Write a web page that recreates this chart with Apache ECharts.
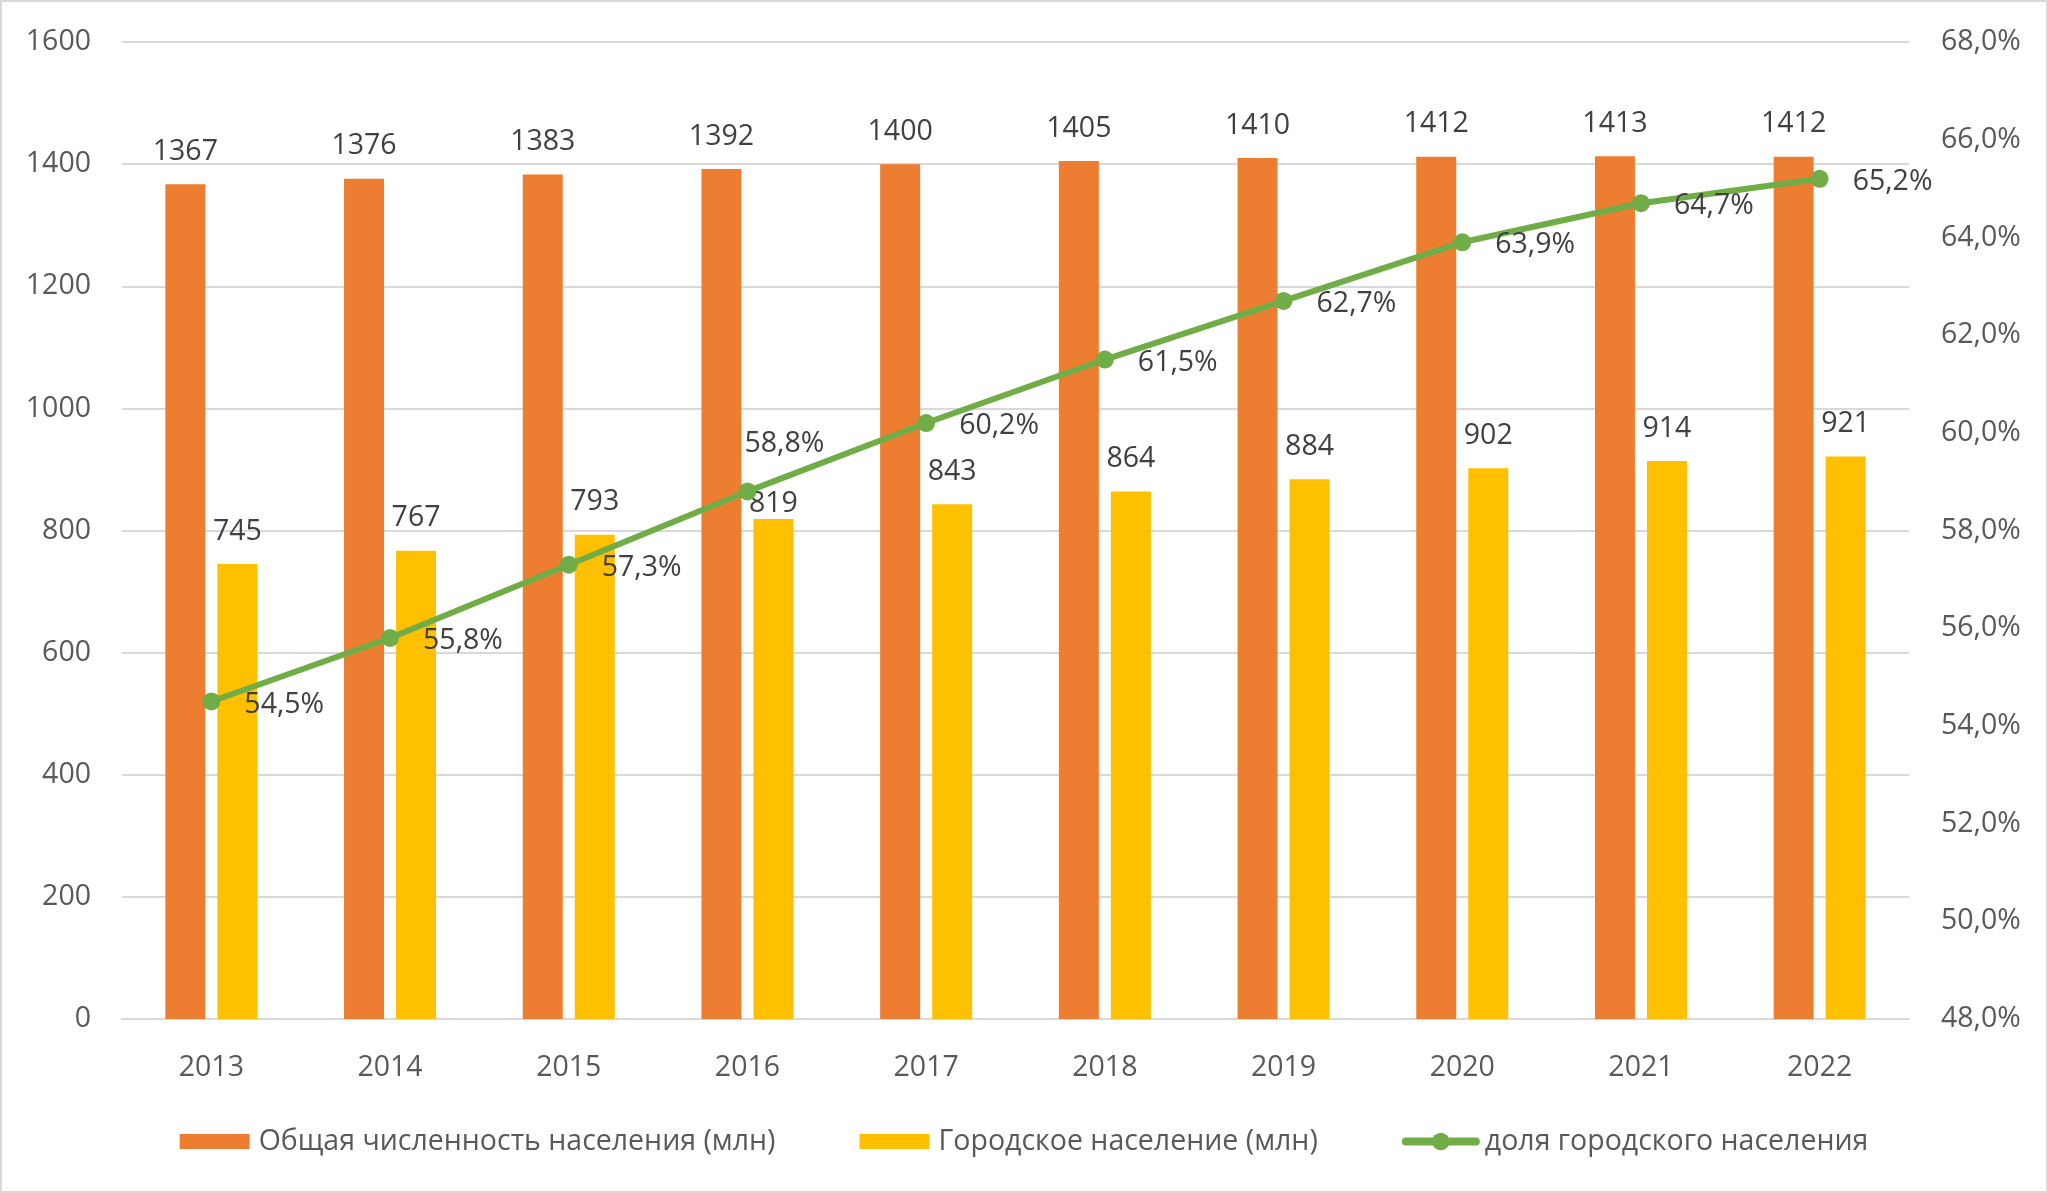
<!DOCTYPE html>
<html>
<head>
<meta charset="utf-8">
<script src="https://cdn.jsdelivr.net/npm/echarts@6/dist/echarts.min.js"></script>
<style>
html,body{margin:0;padding:0;background:#fff;}
#wrap{width:2048px;height:1193px;box-sizing:border-box;border:2px solid #d9d9d9;position:relative;overflow:hidden;}
#chart{position:absolute;left:-2px;top:-2px;width:2048px;height:1193px;}
</style>
</head>
<body>
<div id="wrap"><div id="chart"></div></div>
<script>
const years = ['2013','2014','2015','2016','2017','2018','2019','2020','2021','2022'];
const totalPop = [1367,1376,1383,1392,1400,1405,1410,1412,1413,1412];
const urbanPop = [745,767,793,819,843,864,884,902,914,921];
const urbanShare = [54.5,55.8,57.3,58.8,60.2,61.5,62.7,63.9,64.7,65.2];
const seriesNames = ['Общая численность населения (млн)','Городское население (млн)','доля городского населения'];

const FONT = 'Open Sans';
const FS = 28.5;
const pct = v => Number(v).toFixed(1).replace('.', ',') + '%';

const urbanData = urbanPop.map((v, i) => i === 3
  ? {value: v, label: {offset: [0, 17]}} : v);
const shareData = urbanShare.map((v, i) => i === 3
  ? {value: v, label: {offset: [-36, -48]}} : v);

const rectIcon = 'path://M0,0H69V15H0Z';

const chart = echarts.init(document.getElementById('chart'));
chart.setOption({
  animation: false,
  textStyle: {fontFamily: FONT},
  grid: {left: 122, right: 139, top: 42, bottom: 174, containLabel: false},
  legend: {
    data: [
      {name: seriesNames[0], icon: rectIcon},
      {name: seriesNames[1], icon: rectIcon},
      {name: seriesNames[2]}
    ],
    bottom: 32,
    left: 'center',
    itemWidth: 70,
    itemHeight: 22,
    itemGap: 84,
    lineStyle: {width: 8, cap: 'round'},
    textStyle: {fontFamily: FONT, fontSize: FS, color: '#595959', padding: [0, 0, 0, 4]}
  },
  xAxis: {
    type: 'category',
    data: years,
    axisLine: {lineStyle: {color: '#d9d9d9', width: 2}},
    axisTick: {show: false},
    axisLabel: {fontFamily: FONT, fontSize: FS, color: '#595959', margin: 34}
  },
  yAxis: [{
    type: 'value', min: 0, max: 1600, interval: 200,
    axisLine: {show: false}, axisTick: {show: false},
    splitLine: {lineStyle: {color: '#d9d9d9', width: 2}},
    axisLabel: {fontFamily: FONT, fontSize: FS, color: '#595959', margin: 31, formatter: v => String(v)}
  }, {
    type: 'value', min: 48, max: 68, interval: 2,
    axisLine: {show: false}, axisTick: {show: false},
    splitLine: {show: false},
    axisLabel: {fontFamily: FONT, fontSize: FS, color: '#595959', margin: 32, formatter: pct}
  }],
  series: [{
    name: seriesNames[0], type: 'bar', data: totalPop,
    barWidth: 40, barGap: '30%',
    itemStyle: {color: '#ED7D31'},
    label: {show: true, position: 'top', distance: 18, fontFamily: FONT, fontSize: FS, color: '#404040'}
  }, {
    name: seriesNames[1], type: 'bar', data: urbanData,
    barWidth: 40,
    itemStyle: {color: '#FFC000'},
    label: {show: true, position: 'top', distance: 18, fontFamily: FONT, fontSize: FS, color: '#404040'}
  }, {
    name: seriesNames[2], type: 'line', yAxisIndex: 1, data: shareData,
    symbol: 'circle', symbolSize: 18,
    lineStyle: {color: '#70AD47', width: 6, cap: 'round', join: 'round'},
    itemStyle: {color: '#70AD47'},
    label: {show: true, position: 'right', distance: 24, offset: [0, 3], fontFamily: FONT, fontSize: FS, color: '#404040', formatter: p => pct(p.value)}
  }]
});
</script>
</body>
</html>
